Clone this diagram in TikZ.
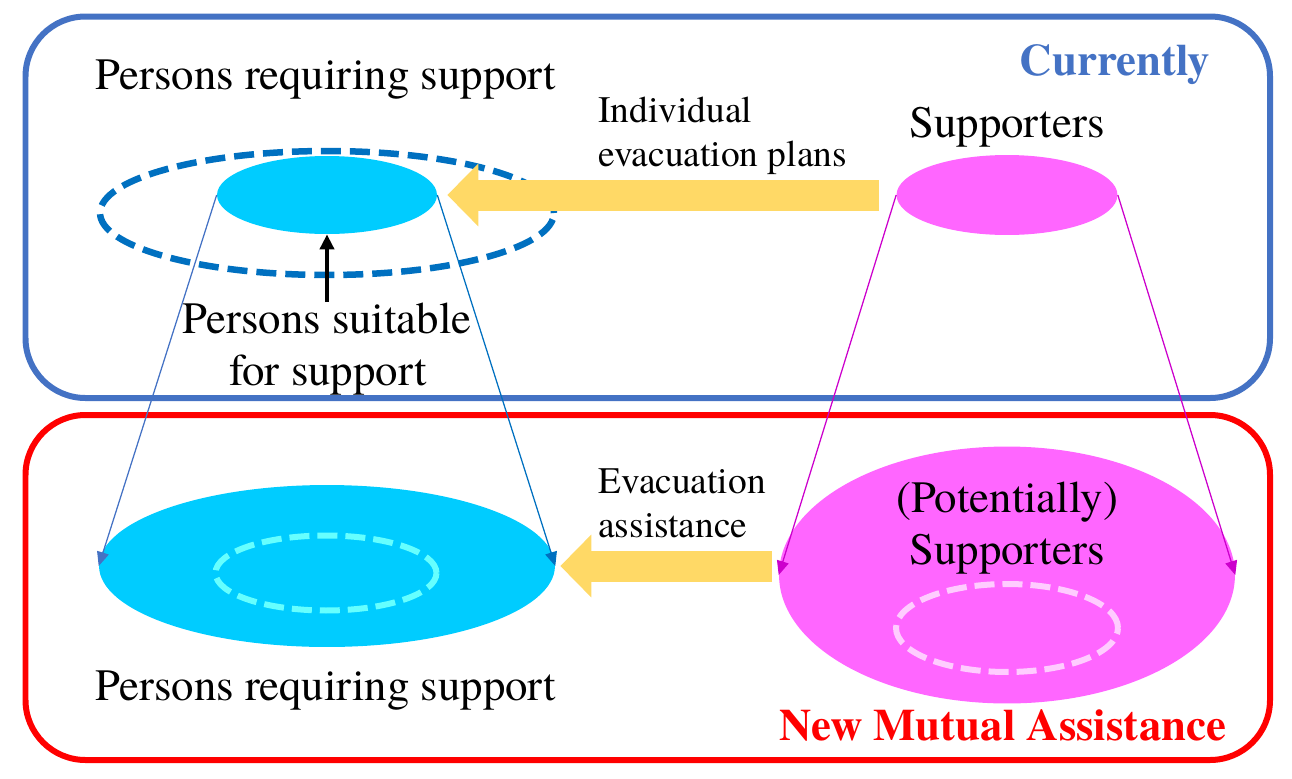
\documentclass[tikz,border=0pt]{standalone}
\usepackage{fontspec}
\setmainfont{texgyretermes-regular.otf}[BoldFont=texgyretermes-bold.otf]
\newfontfamily\picserif{texgyretermes-regular.otf}[BoldFont=texgyretermes-bold.otf]
\usetikzlibrary{shapes.geometric,arrows.meta}
\definecolor{boxblue}{HTML}{4472C4}
\definecolor{dashblue}{HTML}{0070C0}
\definecolor{cyanfill}{HTML}{00CCFF}
\definecolor{cyandash}{HTML}{66FFFF}
\definecolor{magfill}{HTML}{FF66FF}
\definecolor{pinkdash}{HTML}{FFCCFF}
\definecolor{magline}{HTML}{CC00CC}
\definecolor{goldarrow}{HTML}{FFD966}
\begin{document}
\begin{tikzpicture}[x=0.02cm,y=-0.02cm,
  bigtext/.style={font=\picserif\fontsize{25.5pt}{30pt}\selectfont, inner sep=0, anchor=base},
  smalltext/.style={font=\picserif\fontsize{21.3pt}{26pt}\selectfont, inner sep=0, anchor=base west},
  boldtext/.style={font=\picserif\bfseries\fontsize{25.5pt}{30pt}\selectfont, inner sep=0, anchor=base},
  ell/.style={ellipse, inner sep=0, draw=none},
  framebox/.style={line width=0.12cm, rounded corners=1.2cm},
  outerdash/.style={draw=dashblue, line width=0.13cm, dash pattern=on 0.4cm off 0.18cm},
  innerdash/.style={line width=0.12cm, dash pattern=on 0.4cm off 0.16cm},
  goldarr/.style={draw=goldarrow, line width=0.62cm, -{Triangle[length=0.62cm,width=1.22cm]}},
  thinarr/.style={line width=0.025cm, -{Triangle[length=0.28cm,width=0.24cm]}}]
\useasboundingbox (0,0) rectangle (1292,778);
% frames
\draw[framebox, draw=boxblue] (25.5,16.5) rectangle (1270,398);
\draw[framebox, draw=red] (25.5,415) rectangle (1270,760);
% ellipses
\node[ell, outerdash, minimum width=9.08cm, minimum height=2.48cm] (group) at (327,213) {};
\node[ell, fill=cyanfill, minimum width=4.4cm, minimum height=1.56cm] (ctop) at (327,195) {};
\node[ell, fill=magfill, minimum width=4.42cm, minimum height=1.6cm] (mtop) at (1007,195) {};
\node[ell, fill=cyanfill, minimum width=9.12cm, minimum height=3.24cm] (cbig) at (327,566) {};
\node[ell, draw=cyandash, innerdash, minimum width=4.42cm, minimum height=1.5cm] (cin) at (326,573) {};
\node[ell, fill=magfill, minimum width=9.12cm, minimum height=5.14cm] (pbig) at (1007,575) {};
\node[ell, draw=pinkdash, innerdash, minimum width=4.44cm, minimum height=1.76cm] (pin) at (1007,628) {};
% texts
\node[boldtext, text=boxblue] (cur) at (1115,75) {Currently};
\node[bigtext] (prs1) at (326,89) {Persons requiring support};
\node[bigtext] (sup1) at (1007,137) {Supporters};
\node[smalltext] (iep1) at (598,122) {Individual};
\node[smalltext] (iep2) at (598,166) {evacuation plans};
\node[bigtext] (suit1) at (327,333) {Persons suitable};
\node[bigtext] (suit2) at (328,385) {for support};
\node[smalltext] (ea1) at (598,493) {Evacuation};
\node[smalltext] (ea2) at (598,537) {assistance};
\node[bigtext] (pot1) at (1007,512) {(Potentially)};
\node[bigtext] (pot2) at (1007,564) {Supporters};
\node[bigtext] (prs2) at (326,700) {Persons requiring support};
\node[boldtext, text=red] (nma) at (1003,740) {New Mutual Assistance};
% connectors
\draw[goldarr, shorten <=0.34cm, shorten >=0.2cm] (mtop.west) -- (ctop.east);
\draw[goldarr, shorten <=0.14cm, shorten >=0.1cm] (pbig.west |- cbig.east) -- (cbig.east);
\draw[thinarr, draw=boxblue, fill=boxblue] (ctop.west) -- (cbig.west);
\draw[thinarr, draw=dashblue, fill=dashblue] (ctop.east) -- (cbig.east);
\draw[thinarr, draw=magline, fill=magline] (mtop.west) -- (pbig.west);
\draw[thinarr, draw=magline, fill=magline] (mtop.east) -- (pbig.east);
\draw[line width=0.08cm, -{Triangle[length=0.3cm,width=0.28cm]}] (suit1.north) -- (ctop.south);
\end{tikzpicture}
\end{document}
